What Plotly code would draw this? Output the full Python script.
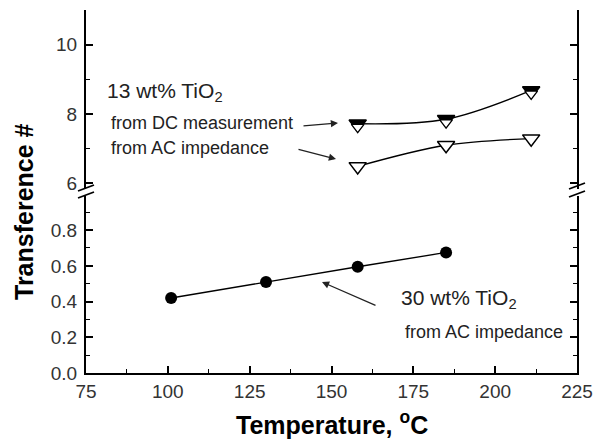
import plotly.graph_objects as go

# ---- data ----
temp_30 = [101, 130, 158, 185]
trans_30_ac = [0.42, 0.51, 0.595, 0.675]

temp_13 = [158, 185, 211]
trans_13_dc = [7.72, 7.85, 8.68]
trans_13_ac = [6.49, 7.10, 7.29]

x_ticks = [75, 100, 125, 150, 175, 200, 225]
y_low_ticks = [0.0, 0.2, 0.4, 0.6, 0.8]
y_up_ticks = [6, 8, 10]

# ---- layout geometry (pixels) ----
W, H = 595, 439
L, R, T, B = 86, 18, 10, 66
PW, PH = W - L - R, H - T - B


def pp(px, py):
    return (px - L) / PW, (H - B - py) / PH


FONT = "Liberation Sans, Arial, sans-serif"
LOW_RANGE = [0, 0.99]
UP_RANGE = [5.85, 11]
LOW_DOM = [0, 0.487]
UP_DOM = [0.508, 1]

fig = go.Figure()

# 30 wt% TiO2, AC impedance
fig.add_trace(go.Scatter(
    x=temp_30, y=trans_30_ac, mode="lines+markers",
    line=dict(color="black", width=1.3),
    marker=dict(symbol="circle", size=12, color="black"),
    xaxis="x", yaxis="y", showlegend=False))

# 13 wt% TiO2, AC impedance (open triangles)
fig.add_trace(go.Scatter(
    x=temp_13, y=trans_13_ac, mode="lines+markers",
    line=dict(color="black", width=1.3, shape="spline"),
    marker=dict(symbol="triangle-down", size=15, color="white",
                line=dict(color="black", width=1.5)),
    xaxis="x", yaxis="y2", showlegend=False))

# 13 wt% TiO2, DC measurement (half-filled triangles)
fig.add_trace(go.Scatter(
    x=temp_13, y=trans_13_dc, mode="lines+markers",
    line=dict(color="black", width=1.3, shape="spline"),
    marker=dict(symbol="triangle-down", size=15, color="black",
                line=dict(color="black", width=1.5)),
    xaxis="x", yaxis="y2", showlegend=False))
shift = 3.4 / (PH * (UP_DOM[1] - UP_DOM[0]) / (UP_RANGE[1] - UP_RANGE[0]))
fig.add_trace(go.Scatter(
    x=temp_13, y=[v - shift for v in trans_13_dc], mode="markers",
    marker=dict(symbol="triangle-down", size=11, color="white",
                line=dict(color="black", width=1.3)),
    xaxis="x", yaxis="y2", showlegend=False, hoverinfo="skip"))

tickfont = dict(family=FONT, size=19, color="#333")
common = dict(showgrid=False, zeroline=False, showline=True, linecolor="black",
              linewidth=2, ticks="inside", ticklen=7, tickwidth=1.5,
              tickcolor="black", tickfont=tickfont, automargin=False)

fig.update_layout(
    width=W, height=H,
    margin=dict(l=L, r=R, t=T, b=B),
    paper_bgcolor="white", plot_bgcolor="white",
    xaxis=dict(range=[75, 225], tickvals=x_ticks, anchor="y",
               minor=dict(dtick=12.5, tick0=75, ticks="inside", ticklen=4,
                          tickwidth=1.3, tickcolor="black"),
               ticklabelstandoff=0,
               **common),
    xaxis2=dict(range=[75, 225], tickvals=x_ticks, anchor="y2",
                overlaying="x", side="top", showticklabels=False,
                minor=dict(dtick=12.5, tick0=75, ticks="inside", ticklen=4,
                           tickwidth=1.3, tickcolor="black"),
                **common),
    yaxis=dict(range=LOW_RANGE, domain=LOW_DOM, tickvals=y_low_ticks,
               ticktext=["%.1f" % v for v in y_low_ticks], mirror="ticks",
               minor=dict(dtick=0.1, tick0=0, ticks="inside", ticklen=4,
                          tickwidth=1.3, tickcolor="black"),
               ticklabelstandoff=3,
               **common),
    yaxis2=dict(range=UP_RANGE, domain=UP_DOM, tickvals=y_up_ticks,
                mirror="ticks", anchor="x",
                minor=dict(dtick=1, tick0=6, ticks="inside", ticklen=4,
                           tickwidth=1.3, tickcolor="black"),
                ticklabelstandoff=3,
                **common),
)

ann = []


def text(px, py, s, size):
    x, y = pp(px, py)
    ann.append(dict(x=x, y=y, xref="paper", yref="paper", text=s,
                    showarrow=False, xanchor="left", yanchor="middle",
                    font=dict(family=FONT, size=size, color="#222")))


def arrow(hx, hy, tx, ty):
    x, y = pp(hx, hy)
    ann.append(dict(x=x, y=y, xref="paper", yref="paper", text="",
                    showarrow=True, ax=tx - hx, ay=ty - hy,
                    arrowhead=2, arrowsize=1.1, arrowwidth=1.3,
                    arrowcolor="#222"))


text(105, 92, "13 wt% TiO<sub>2</sub>", 21)
text(109, 123, "from DC measurement", 18)
text(109, 148, "from AC impedance", 18)
text(399, 299, "30 wt% TiO<sub>2</sub>", 21)
text(403, 332, "from AC impedance", 18)
arrow(338, 123, 302, 126)
arrow(336, 159, 297, 149)
arrow(322, 282, 377, 306)

# axis titles
ann.append(dict(x=(24 - L) / PW, y=pp(0, 212)[1], xref="paper", yref="paper",
                text="<b>Transference #</b>", showarrow=False, textangle=-90,
                font=dict(family=FONT, size=25, color="black"),
                xanchor="center", yanchor="middle"))
ann.append(dict(x=pp(332, 0)[0], y=pp(0, 423)[1], xref="paper", yref="paper",
                text="<b>Temperature, <sup>o</sup>C</b>", showarrow=False,
                font=dict(family=FONT, size=25, color="black"),
                xanchor="center", yanchor="middle"))

fig.update_layout(annotations=ann)

# axis-break marks
shapes = []
for bx, ys in ((L, (188, 195)), (L + PW, (186, 194))):
    for by in ys:
        x0, y0 = pp(bx - 8, by + 3)
        x1, y1 = pp(bx + 8, by - 3)
        shapes.append(dict(type="line", xref="paper", yref="paper",
                           x0=x0, y0=y0, x1=x1, y1=y1,
                           line=dict(color="black", width=1.8)))
fig.update_layout(shapes=shapes)

fig.write_html("out.html")
